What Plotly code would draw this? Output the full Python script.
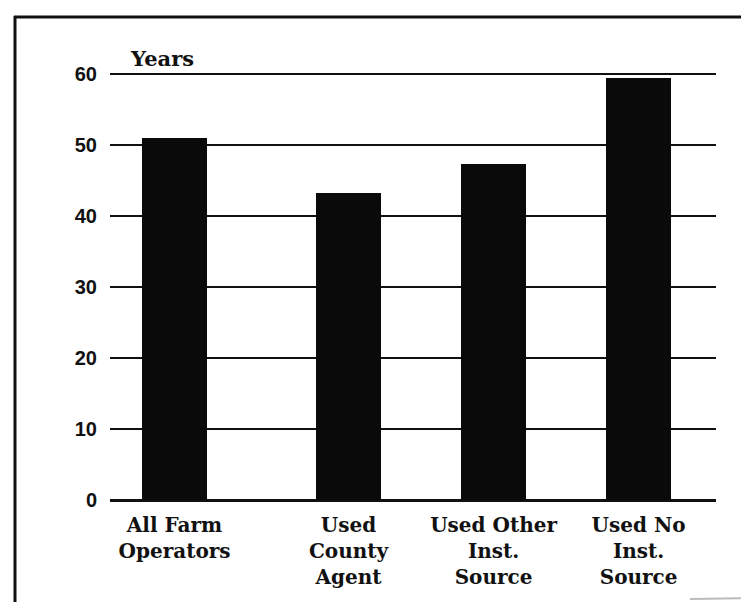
import plotly.graph_objects as go

# ---- data ----
categories = ["All Farm<br>Operators", "Used<br>County<br>Agent",
              "Used Other<br>Inst.<br>Source", "Used No<br>Inst.<br>Source"]
years = [51.0, 43.3, 47.3, 59.5]
y_ticks = [0, 10, 20, 30, 40, 50, 60]

# ---- layout helpers (slot positions of the categories on the axis) ----
slots = [0, 1.2, 2.2, 3.2]

OFF = 8  # default page body margin
W, H = 749 - OFF, 602 - OFF
L, R, T, B = 110 - OFF, 33, 60 - OFF, 102
pw, ph = W - L - R, H - T - B

def px_x(px):
    return (px - OFF - L) / pw

def px_y(py):
    return (OFF + H - B - py) / ph

fig = go.Figure()
fig.add_trace(go.Bar(
    x=slots, y=years, width=0.45,
    marker=dict(color="#0a0a0a", line=dict(width=0)),
    hoverinfo="skip",
))

serif = "DejaVu Serif"
sans = "Liberation Sans, Arial, sans-serif"

fig.update_layout(
    width=W, height=H,
    margin=dict(l=L, r=R, t=T, b=B),
    paper_bgcolor="white", plot_bgcolor="white",
    showlegend=False,
    bargap=0,
    xaxis=dict(
        range=[-0.445, 3.734],
        tickvals=slots, ticktext=categories,
        showgrid=False, zeroline=False, showline=False,
        ticks="", ticklabelstandoff=11,
        tickfont=dict(family=serif, size=20, color="#111", weight="bold"),
    ),
    yaxis=dict(
        range=[0, 62],
        tickvals=y_ticks,
        showgrid=True, gridcolor="#111", gridwidth=2,
        zeroline=True, zerolinecolor="#111", zerolinewidth=3,
        showline=False, ticks="", ticklabelstandoff=12,
        tickfont=dict(family=sans, size=20, color="#111", weight="bold"),
    ),
    font=dict(color="#111"),
)

fig.add_annotation(
    text="Years", xref="paper", yref="paper",
    x=px_x(128), y=px_y(73), xanchor="left", yanchor="bottom",
    showarrow=False,
    font=dict(family=serif, size=21, color="#111", weight="bold"),
)

# frame lines of the scanned page
fig.add_shape(type="line", xref="paper", yref="paper",
              x0=px_x(15), x1=px_x(15), y0=px_y(16), y1=px_y(602),
              line=dict(color="#111", width=3))
fig.add_shape(type="line", xref="paper", yref="paper",
              x0=px_x(14), x1=px_x(749), y0=px_y(17), y1=px_y(17),
              line=dict(color="#111", width=3))
fig.add_shape(type="line", xref="paper", yref="paper",
              x0=px_x(690), x1=px_x(749), y0=px_y(599), y1=px_y(598),
              line=dict(color="#bbb", width=2))

fig.write_html("out.html")
